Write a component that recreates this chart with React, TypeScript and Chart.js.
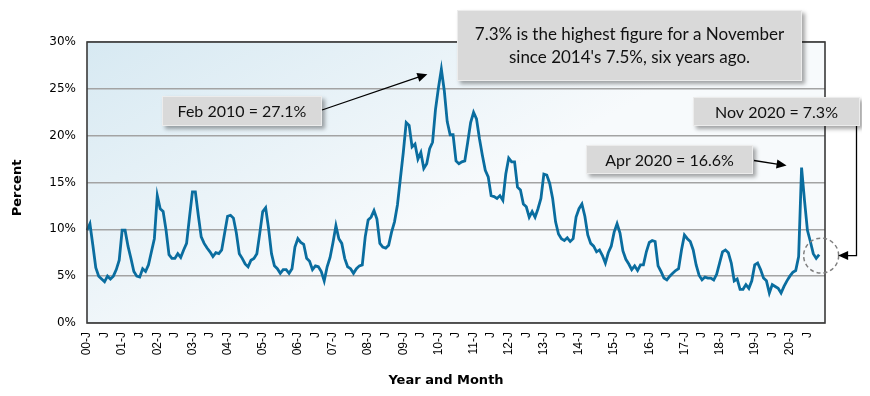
import React, { useEffect, useRef } from 'react';
import { Chart, registerables } from 'chart.js';

Chart.register(...registerables);

// ---------- data ----------
const years = ['00', '01', '02', '03', '04', '05', '06', '07', '08', '09', '10', '11', '12', '13', '14', '15', '16', '17', '18', '19', '20', '21'];
const monthLetters = ['J', 'F', 'M', 'A', 'M', 'J', 'J', 'A', 'S', 'O', 'N', 'D'];

const v2000 = [9.9, 10.6, 8.3, 5.9, 5.0, 4.7, 4.4, 5.0, 4.7, 5.0, 5.7, 6.7];
const v2001 = [9.9, 9.9, 8.2, 6.9, 5.5, 5.0, 4.9, 5.8, 5.5, 6.2, 7.6, 9.0];
const v2002 = [13.6, 12.2, 11.9, 9.9, 7.3, 6.9, 6.9, 7.4, 7.0, 7.8, 8.5, 11.3];
const v2003 = [14.0, 14.0, 11.5, 9.2, 8.5, 8.0, 7.6, 7.1, 7.5, 7.4, 7.8, 9.6];
const v2004 = [11.4, 11.5, 11.2, 9.6, 7.4, 6.9, 6.3, 6.0, 6.7, 6.9, 7.4, 9.6];
const v2005 = [11.9, 12.3, 10.1, 7.4, 6.1, 5.8, 5.3, 5.7, 5.7, 5.3, 5.8, 8.1];
const v2006 = [9.0, 8.6, 8.4, 6.9, 6.6, 5.7, 6.1, 6.0, 5.5, 4.5, 6.0, 7.0];
const v2007 = [8.6, 10.4, 9.0, 8.5, 6.9, 6.0, 5.8, 5.3, 5.8, 6.1, 6.2, 9.2];
const v2008 = [11.0, 11.3, 12.0, 11.1, 8.5, 8.1, 8.0, 8.3, 9.7, 10.8, 12.6, 15.4];
const v2009 = [18.2, 21.4, 21.1, 18.8, 19.1, 17.5, 18.2, 16.5, 17.0, 18.6, 19.3, 22.8];
const v2010 = [25.1, 27.1, 24.8, 21.5, 20.1, 20.1, 17.3, 17.0, 17.2, 17.3, 19.3, 21.4];
const v2011 = [22.5, 21.8, 19.7, 17.9, 16.3, 15.6, 13.6, 13.5, 13.3, 13.6, 13.1, 15.9];
const v2012 = [17.6, 17.2, 17.2, 14.5, 14.2, 12.7, 12.4, 11.3, 11.9, 11.3, 12.2, 13.3];
const v2013 = [15.9, 15.8, 14.9, 13.3, 10.8, 9.5, 9.0, 8.8, 9.1, 8.7, 9.0, 11.3];
const v2014 = [12.2, 12.7, 11.4, 9.4, 8.5, 8.2, 7.6, 7.8, 7.2, 6.4, 7.5, 8.2];
const v2015 = [9.7, 10.6, 9.6, 7.7, 6.8, 6.3, 5.7, 6.1, 5.6, 6.2, 6.2, 7.6];
const v2016 = [8.6, 8.8, 8.7, 6.1, 5.5, 4.8, 4.6, 5.0, 5.3, 5.6, 5.8, 7.8];
const v2017 = [9.4, 9.0, 8.7, 7.8, 6.2, 5.1, 4.6, 4.9, 4.8, 4.8, 4.6, 5.2];
const v2018 = [6.4, 7.6, 7.8, 7.5, 6.4, 4.5, 4.7, 3.6, 3.6, 4.1, 3.7, 4.5];
const v2019 = [6.2, 6.4, 5.7, 4.8, 4.5, 3.2, 4.1, 3.9, 3.7, 3.2, 3.9, 4.5];
const v2020 = [5.0, 5.4, 5.6, 7.1, 16.6, 13.1, 9.9, 8.7, 7.4, 6.9, 7.3];

const yTicks = [0, 5, 10, 15, 20, 25, 30];

const noteFeb = 'Feb 2010 = 27.1%';
const noteApr = 'Apr 2020 = 16.6%';
const noteNov = 'Nov 2020 = 7.3%';
const noteBig = ["7.3% is the highest figure for a November", "since 2014's 7.5%, six years ago."];
const febIndex = 121;
const aprIndex = 244;

const values: (number | null)[] = [
  ...v2000, ...v2001, ...v2002, ...v2003, ...v2004, ...v2005, ...v2006,
  ...v2007, ...v2008, ...v2009, ...v2010, ...v2011, ...v2012, ...v2013,
  ...v2014, ...v2015, ...v2016, ...v2017, ...v2018, ...v2019, ...v2020,
];
const lastIndex = values.length - 1;

const categories: string[] = [];
years.forEach((y) => monthLetters.forEach((m, k) => categories.push(k === 0 ? `${y}-${m}` : m)));
const shownCategories = categories.slice(0, 21 * 12 + 1); // Jan 2000 .. Jan 2021 (axis end)

// ---------- drawing helpers ----------
function drawBox(ctx: CanvasRenderingContext2D, x: number, y: number, w: number, h: number, lines: string[], font: string, lh: number) {
  ctx.save();
  ctx.shadowColor = 'rgba(0,0,0,0.35)';
  ctx.shadowBlur = 4;
  ctx.shadowOffsetX = 3;
  ctx.shadowOffsetY = 3;
  ctx.fillStyle = '#d9d9d9';
  ctx.fillRect(x, y, w, h);
  ctx.restore();
  ctx.save();
  ctx.strokeStyle = '#ececec';
  ctx.lineWidth = 1;
  ctx.strokeRect(x + 0.5, y + 0.5, w - 1, h - 1);
  ctx.fillStyle = '#111';
  ctx.font = font;
  ctx.textAlign = 'center';
  ctx.textBaseline = 'middle';
  const cy = y + h / 2 - ((lines.length - 1) * lh) / 2;
  lines.forEach((t, i) => ctx.fillText(t, x + w / 2, cy + i * lh + 1));
  ctx.restore();
}

function drawArrowHead(ctx: CanvasRenderingContext2D, fx: number, fy: number, tx: number, ty: number, len = 10, half = 4.5) {
  const ang = Math.atan2(ty - fy, tx - fx);
  ctx.beginPath();
  ctx.moveTo(tx, ty);
  ctx.lineTo(tx - len * Math.cos(ang) + half * Math.sin(ang), ty - len * Math.sin(ang) - half * Math.cos(ang));
  ctx.lineTo(tx - len * Math.cos(ang) - half * Math.sin(ang), ty - len * Math.sin(ang) + half * Math.cos(ang));
  ctx.closePath();
  ctx.fill();
}

function drawArrow(ctx: CanvasRenderingContext2D, fx: number, fy: number, tx: number, ty: number) {
  ctx.save();
  ctx.strokeStyle = '#000';
  ctx.fillStyle = '#000';
  ctx.lineWidth = 1.3;
  const ang = Math.atan2(ty - fy, tx - fx);
  ctx.beginPath();
  ctx.moveTo(fx, fy);
  ctx.lineTo(tx - 8 * Math.cos(ang), ty - 8 * Math.sin(ang));
  ctx.stroke();
  drawArrowHead(ctx, fx, fy, tx, ty);
  ctx.restore();
}

const decoPlugin = {
  id: 'deco',
  beforeDraw(chart: any) {
    const { ctx, chartArea: a } = chart;
    const g = ctx.createLinearGradient(a.left, a.top, a.left + 160, a.bottom);
    g.addColorStop(0, '#d7e9f2');
    g.addColorStop(1, '#f7fafc');
    ctx.save();
    ctx.fillStyle = g;
    ctx.fillRect(a.left, a.top, a.right - a.left, a.bottom - a.top);
    ctx.restore();
  },
  afterDraw(chart: any) {
    const { ctx, chartArea: a, scales } = chart;
    const xs = scales.x;
    const ys = scales.y;
    // plot frame
    ctx.save();
    ctx.strokeStyle = '#3a3a3a';
    ctx.lineWidth = 1.6;
    ctx.strokeRect(a.left, a.top, a.right - a.left, a.bottom - a.top);
    ctx.restore();

    // axis titles
    ctx.save();
    ctx.fillStyle = '#000';
    ctx.font = 'bold 13px "DejaVu Sans"';
    ctx.textAlign = 'center';
    ctx.textBaseline = 'middle';
    ctx.fillText('Year and Month', 438, 373);
    ctx.translate(10, 180);
    ctx.rotate(-Math.PI / 2);
    ctx.fillText('Percent', 0, 0);
    ctx.restore();

    const labelFont = '16px Lato';
    // Feb 2010 note
    drawBox(ctx, 154, 88, 160, 30, [noteFeb], labelFont, 20);
    const fx = xs.getPixelForValue(febIndex);
    const fy = ys.getPixelForValue(values[febIndex] as number);
    drawArrow(ctx, 314, 102, fx - 14, fy + 5);

    // big note
    drawBox(ctx, 449, 2, 345, 71, noteBig, '17px Lato', 23);

    // Apr 2020 note
    drawBox(ctx, 578, 137, 167, 29, [noteApr], labelFont, 20);
    const ax = xs.getPixelForValue(aprIndex);
    const ay = ys.getPixelForValue(values[aprIndex] as number);
    drawArrow(ctx, 746, 152.5, ax - 15, ay - 2);

    // Nov 2020 note + dashed circle
    const nx = xs.getPixelForValue(lastIndex);
    const ny = ys.getPixelForValue(values[lastIndex] as number);
    ctx.save();
    ctx.strokeStyle = '#7f7f7f';
    ctx.lineWidth = 1.5;
    ctx.setLineDash([4, 3]);
    ctx.beginPath();
    ctx.arc(nx + 2, ny + 1, 17.5, 0, Math.PI * 2);
    ctx.stroke();
    ctx.restore();

    drawBox(ctx, 685, 89, 167, 29, [noteNov], labelFont, 20);
    ctx.save();
    ctx.strokeStyle = '#000';
    ctx.fillStyle = '#000';
    ctx.lineWidth = 1.3;
    ctx.beginPath();
    ctx.moveTo(848.5, 118);
    ctx.lineTo(848.5, ny + 1);
    ctx.lineTo(nx + 26, ny + 1);
    ctx.stroke();
    drawArrowHead(ctx, 848.5, ny + 1, nx + 19, ny + 1, 10, 4.5);
    ctx.restore();
  },
};

export default function App() {
  const ref = useRef<HTMLCanvasElement | null>(null);

  useEffect(() => {
    if (!ref.current) return;
    const chart = new Chart(ref.current, {
      type: 'line',
      data: {
        labels: shownCategories,
        datasets: [
          {
            data: values,
            borderColor: '#0a6d9f',
            borderWidth: 2.8,
            pointRadius: 0,
            tension: 0,
            fill: false,
          },
        ],
      },
      options: {
        animation: false,
        responsive: false,
        layout: { padding: { top: 34, right: 37, left: 0, bottom: 0 } },
        plugins: { legend: { display: false }, tooltip: { enabled: false } },
        scales: {
          x: {
            type: 'category',
            offset: false,
            grid: { display: false, drawTicks: false },
            border: { display: false },
            afterFit: (s: any) => { s.height = 65; },
            ticks: {
              autoSkip: false,
              minRotation: 90,
              maxRotation: 90,
              padding: 9,
              color: '#000',
              font: { family: '"Liberation Sans"', size: 12 },
              callback: (_v: any, i: number) => (i % 6 === 0 && i < 21 * 12 ? shownCategories[i] : ''),
            },
          },
          y: {
            min: yTicks[0],
            max: yTicks[yTicks.length - 1],
            afterFit: (s: any) => { s.width = 79; },
            afterBuildTicks: (s: any) => { s.ticks = yTicks.map((v) => ({ value: v })); },
            grid: { color: '#a3a3a3', lineWidth: 1.6, drawTicks: false },
            border: { display: false },
            ticks: {
              padding: 11,
              color: '#000',
              font: { family: '"DejaVu Sans"', size: 12 },
              callback: (v: any) => `${v}%`,
            },
          },
        },
      },
      plugins: [decoPlugin],
    });
    return () => chart.destroy();
  }, []);

  return (
    <div style={{ width: 854, height: 380 }}>
      <canvas ref={ref} width={854} height={380} />
    </div>
  );
}
